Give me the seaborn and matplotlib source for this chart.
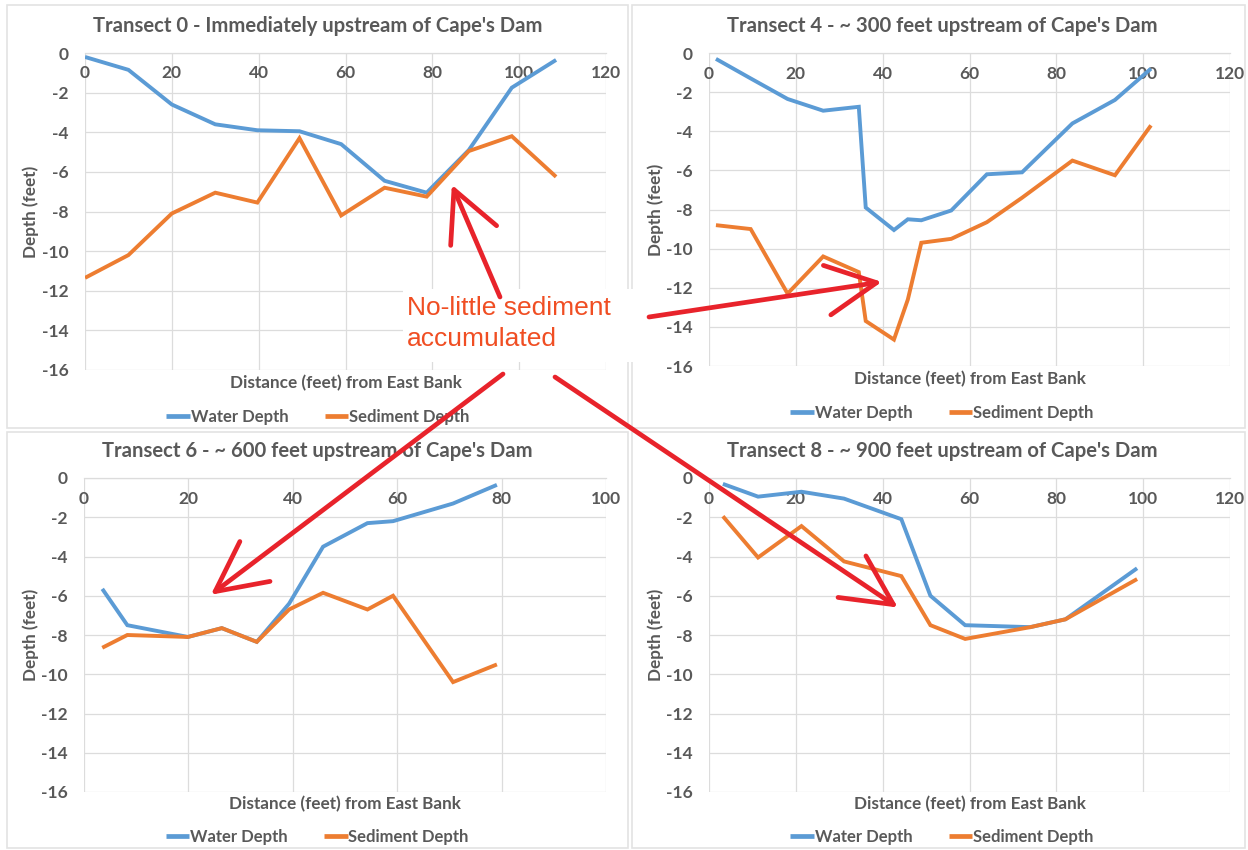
import matplotlib
matplotlib.use("Agg")
import matplotlib.pyplot as plt
from matplotlib.patches import Rectangle, ConnectionPatch
import seaborn as sns
import pandas as pd

# ---------------- data ----------------
t0_x = [0, 10, 20, 30, 39.7, 49.4, 59, 69, 78.7, 88.4, 98.3, 108.5]
t0_water = [-0.2, -0.85, -2.6, -3.6, -3.9, -3.95, -4.6, -6.45, -7.05, -4.9, -1.75, -0.35]
t0_sed = [-11.35, -10.2, -8.1, -7.05, -7.55, -4.3, -8.2, -6.8, -7.25, -4.95, -4.2, -6.25]

t4_x = [1.6, 9.6, 18.1, 26.3, 34.5, 36.1, 42.6, 45.8, 48.9, 55.8, 64, 72.1, 83.7, 93.5, 101.8]
t4_water = [-0.3, -1.3, -2.35, -2.95, -2.75, -7.9, -9.05, -8.5, -8.55, -8.05, -6.2, -6.1, -3.6, -2.4, -0.8]
t4_sed = [-8.8, -9.0, -12.3, -10.4, -11.2, -13.7, -14.65, -12.6, -9.7, -9.5, -8.65, -7.4, -5.5, -6.25, -3.7]

t6_x = [3.5, 8.3, 19.9, 26.4, 33.1, 39.3, 45.8, 54.3, 59.2, 70.7, 79.1]
t6_water = [-5.65, -7.5, -8.1, -7.65, -8.35, -6.4, -3.5, -2.3, -2.2, -1.3, -0.35]
t6_sed = [-8.65, -8.0, -8.1, -7.65, -8.35, -6.7, -5.85, -6.7, -6.0, -10.4, -9.5]

t8_x = [3.2, 11.3, 21.3, 31.1, 44.3, 51, 59, 74, 82.1, 98.6]
t8_water = [-0.3, -0.95, -0.7, -1.05, -2.1, -6.0, -7.5, -7.6, -7.2, -4.6]
t8_sed = [-1.95, -4.05, -2.45, -4.25, -5.0, -7.5, -8.2, -7.6, -7.2, -5.15]

titles = ["Transect 0 - Immediately upstream of Cape's Dam",
          "Transect 4 - ~ 300 feet upstream of Cape's Dam",
          "Transect 6 - ~ 600 feet upstream of Cape's Dam",
          "Transect 8 - ~ 900 feet upstream of Cape's Dam"]
x_maxes = [120, 120, 100, 120]
series_names = ["Water Depth", "Sediment Depth"]
x_label = "Distance (feet) from East Bank"
y_label = "Depth (feet)"
note_text = "No-little sediment\naccumulated"
# arrow tips in data coordinates of each panel
arrow_tips = [(84.5, -6.65), (39.8, -11.7), (24.3, -5.95), (43.5, -6.6)]

# ---------------- style ----------------
sns.set_theme(style="white")
plt.rcParams["font.family"] = ["Lato", "DejaVu Sans"]
plt.rcParams["axes.unicode_minus"] = False

TXT = "#595959"
GRID = "#DCDCDC"
palette = {"Water Depth": "#5B9BD5", "Sediment Depth": "#ED7D31"}

W, H = 1248, 850
fig = plt.figure(figsize=(W / 100, H / 100), dpi=100)
fig.patch.set_facecolor("white")


def fx(px):
    return px / W


def fy(py):
    return 1 - py / H


# axes boxes (pixel coords: left, top, right, bottom)
boxes = [(85, 53, 606, 370), (709, 53, 1230, 366),
         (84, 478, 606, 792), (709, 478, 1230, 792)]
# chart-area frames
frames = [(7, 5, 628, 428), (632, 5, 1245, 428), (7, 432, 628, 848), (632, 432, 1245, 848)]
for (l, t, r, b) in frames:
    fig.add_artist(Rectangle((fx(l), fy(b)), fx(r - l), (b - t) / H, transform=fig.transFigure,
                             fill=False, edgecolor="#E3E3E3", lw=1.2, zorder=0))

datasets = [(t0_x, t0_water, t0_sed), (t4_x, t4_water, t4_sed),
            (t6_x, t6_water, t6_sed), (t8_x, t8_water, t8_sed)]

axes = []
for i, ((l, t, r, b), (xs, wd, sd)) in enumerate(zip(boxes, datasets)):
    ax = fig.add_axes([fx(l), fy(b), fx(r - l), (b - t) / H])
    axes.append(ax)
    df = pd.DataFrame({
        "Distance": list(xs) + list(xs),
        "Depth": list(wd) + list(sd),
        "Series": [series_names[0]] * len(xs) + [series_names[1]] * len(xs),
    })
    sns.lineplot(data=df, x="Distance", y="Depth", hue="Series", hue_order=series_names,
                 palette=palette, estimator=None, sort=False, lw=2.8, ax=ax,
                 solid_joinstyle="miter", solid_capstyle="butt", zorder=3)
    xm = x_maxes[i]
    ax.set_xlim(0, xm)
    ax.set_ylim(-16, 0)
    ax.set_xticks(range(0, xm + 1, 20))
    ax.set_yticks(range(-16, 1, 2))
    ax.grid(True, color=GRID, lw=0.9)
    ax.set_axisbelow(True)
    for s in ["top", "right", "left"]:
        ax.spines[s].set_visible(False)
    ax.spines["bottom"].set_position(("data", 0))
    ax.spines["bottom"].set_color(GRID)
    ax.spines["bottom"].set_linewidth(0.9)
    ax.tick_params(axis="x", length=0, pad=9, labelsize=12.5, labelcolor=TXT)
    ax.tick_params(axis="y", length=0, pad=12, labelsize=12.5, labelcolor=TXT)
    for lab in ax.get_xticklabels() + ax.get_yticklabels():
        lab.set_fontweight("bold")
    ax.set_xlabel("")
    ax.set_ylabel("")
    hgt = b - t
    ax.text(0.5, -(383 - 370) / hgt if i < 2 else -(804 - 792) / hgt, x_label,
            transform=ax.transAxes, ha="center", va="center", fontsize=12.3,
            fontweight="bold", color=TXT)
    ylx = (31 - l) / (r - l) if i % 2 == 0 else (656 - l) / (r - l)
    ax.text(ylx, 0.5, y_label, transform=ax.transAxes, rotation=90, ha="center", va="center",
            fontsize=12.3, fontweight="bold", color=TXT)
    ty = (b - 26) / hgt if i < 2 else (b - 451) / hgt
    ax.text(0.447, ty, titles[i], transform=ax.transAxes, ha="center", va="center",
            fontsize=14.6, fontweight="bold", color=TXT)
    handles, labels = ax.get_legend_handles_labels()
    ax.get_legend().remove()
    ly = -(417 - 370) / hgt if i < 2 else -(837 - 792) / hgt
    leg = ax.legend(handles, labels, loc="center", bbox_to_anchor=(0.447, ly), ncol=2,
                    frameon=False, handlelength=1.4, handletextpad=0.05, columnspacing=2.2,
                    prop={"size": 12, "weight": "bold"})
    for txt in leg.get_texts():
        txt.set_color(TXT)
    for lh in leg.get_lines():
        lh.set_linewidth(3.4)

# ---------------- annotation ----------------
fig.add_artist(Rectangle((fx(403), fy(362)), fx(635 - 403), (362 - 289) / H,
                         transform=fig.transFigure, facecolor="white", edgecolor="none", zorder=4))
fig.text(fx(407), fy(323.5), note_text, ha="left", va="center", fontsize=19,
         family=["Liberation Sans", "DejaVu Sans"], color="#F04E23", linespacing=1.4, zorder=5)

tails = [(500, 297), (649, 317), (503, 374), (555, 377)]
for ax, tip, tail in zip(axes, arrow_tips, tails):
    cp = ConnectionPatch(xyA=(fx(tail[0]), fy(tail[1])), coordsA=fig.transFigure,
                         xyB=tip, coordsB=ax.transData,
                         arrowstyle="->,head_length=3.0,head_width=1.5",
                         mutation_scale=12, color="#E8232B", lw=3.4, zorder=6)
    fig.add_artist(cp)

fig.savefig("out.png", dpi=100, facecolor="white")
